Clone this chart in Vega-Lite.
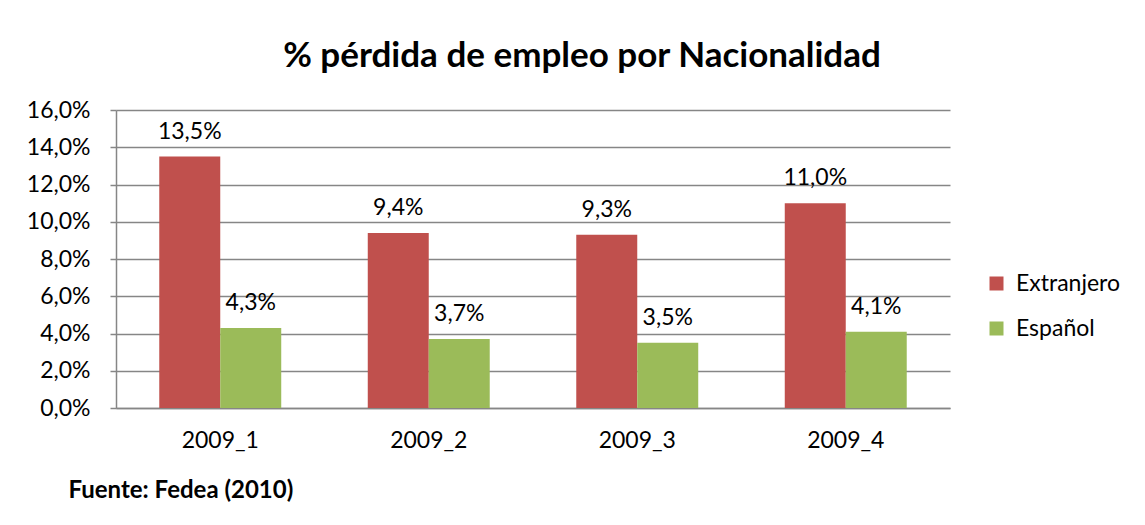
{
  "$schema": "https://vega.github.io/schema/vega-lite/v6.json",
  "width": 834,
  "height": 298,
  "autosize": {"type": "none"},
  "padding": {"left": 116, "top": 110, "right": 195, "bottom": 117},
  "background": "white",
  "title": {
    "text": "% pérdida de empleo por Nacionalidad",
    "font": "Lato",
    "fontSize": 35,
    "fontWeight": "bold",
    "color": "#000000",
    "anchor": "middle",
    "frame": "group",
    "dx": 49,
    "offset": 25
  },
  "config": {
    "locale": {"number": {"decimal": ",", "thousands": ".", "grouping": [3], "currency": ["", "€"]}},
    "view": {"stroke": null},
    "font": "Lato"
  },
  "data": {
    "values": [
      {"periodo": "2009_1", "nacionalidad": "Extranjero", "valor": 0.135},
      {"periodo": "2009_1", "nacionalidad": "Español", "valor": 0.043},
      {"periodo": "2009_2", "nacionalidad": "Extranjero", "valor": 0.094},
      {"periodo": "2009_2", "nacionalidad": "Español", "valor": 0.037},
      {"periodo": "2009_3", "nacionalidad": "Extranjero", "valor": 0.093},
      {"periodo": "2009_3", "nacionalidad": "Español", "valor": 0.035},
      {"periodo": "2009_4", "nacionalidad": "Extranjero", "valor": 0.110},
      {"periodo": "2009_4", "nacionalidad": "Español", "valor": 0.041}
    ]
  },
  "encoding": {
    "x": {
      "field": "periodo",
      "type": "nominal",
      "scale": {"paddingInner": 0.415, "paddingOuter": 0.2075},
      "axis": {
        "title": "Fuente: Fedea (2010)",
        "titleFont": "Lato",
        "titleFontSize": 24,
        "titleFontWeight": "bold",
        "titleColor": "#000000",
        "titleAlign": "left",
        "titleAnchor": "start",
        "titleX": -48,
        "titleY": 82,
        "titleBaseline": "middle",
        "labelAngle": 0,
        "labelFontSize": 23,
        "labelColor": "#000000",
        "labelPadding": 21,
        "ticks": false,
        "domainColor": "#868686",
        "domainWidth": 1.5
      }
    },
    "xOffset": {"field": "nacionalidad", "type": "nominal", "sort": ["Extranjero", "Español"]},
    "y": {
      "field": "valor",
      "type": "quantitative",
      "scale": {"domain": [0, 0.16], "nice": false},
      "axis": {
        "title": null,
        "format": ".1%",
        "values": [0, 0.02, 0.04, 0.06, 0.08, 0.1, 0.12, 0.14, 0.16],
        "labelFontSize": 23,
        "labelColor": "#000000",
        "labelPadding": 20,
        "tickSize": 6,
        "tickColor": "#868686",
        "tickWidth": 1.5,
        "gridColor": "#868686",
        "gridWidth": 1.5,
        "domainColor": "#868686",
        "domainWidth": 1.5
      }
    }
  },
  "layer": [
    {
      "mark": {"type": "bar"},
      "encoding": {
        "color": {
          "field": "nacionalidad",
          "type": "nominal",
          "sort": ["Extranjero", "Español"],
          "scale": {"domain": ["Extranjero", "Español"], "range": ["#C0504D", "#9BBB59"]},
          "legend": {
            "title": null,
            "orient": "none",
            "legendX": 869,
            "legendY": 162,
            "symbolType": "square",
            "symbolSize": 196,
            "symbolStrokeWidth": 0,
            "labelFontSize": 23,
            "labelColor": "#000000",
            "labelOffset": 8,
            "rowPadding": 21
          }
        }
      }
    },
    {
      "mark": {"type": "text", "baseline": "bottom", "dy": -13, "fontSize": 23, "color": "#000000"},
      "encoding": {
        "text": {"field": "valor", "type": "quantitative", "format": ".1%"}
      }
    }
  ]
}
